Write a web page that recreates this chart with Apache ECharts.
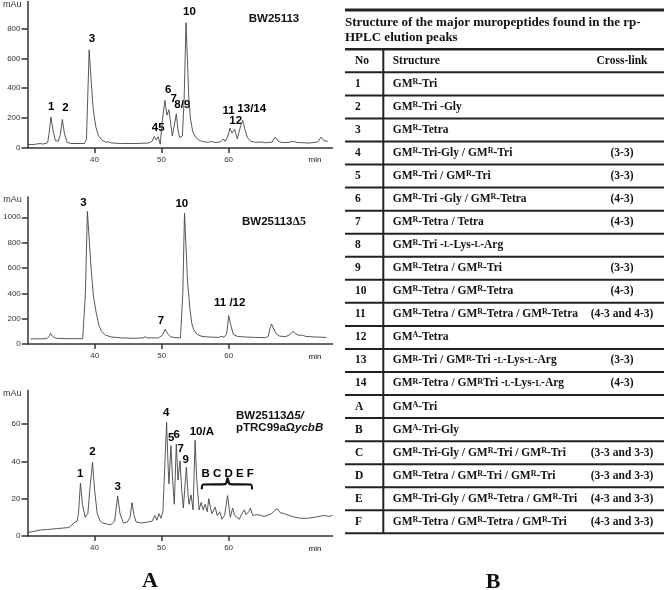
<!DOCTYPE html>
<html>
<head>
<meta charset="utf-8">
<script src="https://cdn.jsdelivr.net/npm/echarts@6/dist/echarts.min.js"></script>
<style>
    html, body { margin: 0; padding: 0; background: #fff; }
    #chart { width: 664px; height: 590px; }
</style>
</head>
<body>
<div id="chart"></div>
<script>
    // chromatogram traces [min, mAu]
    var trace1 = [[30,23],[31.0,24],[31.9,30],[32.3,26],[33.0,35],[33.2,90],[33.5,207],[33.8,120],[34.15,50],[34.6,45],[34.9,90],[35.2,191],[35.5,100],[35.9,38],[36.5,30],[38.5,30],[38.8,60],[39.2,656],[39.5,450],[39.8,260],[40.2,140],[40.6,80],[41.1,52],[41.7,38],[42.1,42],[42.5,34],[44,30],[46,30],[48.0,33],[48.6,45],[48.9,78],[49.2,55],[49.5,75],[49.8,25],[50.1,180],[50.5,318],[50.8,220],[51.1,256],[51.4,150],[51.6,80],[51.9,150],[52.2,229],[52.45,120],[52.7,70],[53.1,80],[53.35,300],[53.65,838],[53.85,600],[54.05,350],[54.3,200],[54.65,110],[55.1,70],[55.6,52],[56.2,42],[57.0,38],[57.4,44],[58.0,37],[58.8,40],[59.2,60],[59.5,45],[59.9,80],[60.2,133],[60.5,100],[60.9,125],[61.3,60],[61.5,55],[61.8,150],[62.1,185],[62.4,130],[62.8,70],[63.3,45],[64.0,38],[64.9,40],[65.5,35],[66.5,40],[66.95,73],[67.4,45],[68.0,36],[69.0,38],[69.6,45],[70.2,37],[72.0,33],[73.3,40],[73.8,73],[74.2,50],[74.8,45]]
    var trace2 = [[30.4,40],[32.8,42],[33.2,60],[33.4,85],[33.7,60],[34.2,45],[36,42],[38.2,42],[38.45,45],[38.6,400],[38.9,1046],[39.2,800],[39.5,560],[39.8,380],[40.2,250],[40.6,150],[41.0,100],[41.6,70],[42.5,55],[44,48],[46,45],[47.2,48],[47.5,58],[47.8,48],[49.5,48],[50.1,70],[50.5,116],[50.9,80],[51.3,58],[52,50],[52.8,48],[53.05,55],[53.15,400],[53.4,1033],[53.6,800],[53.85,500],[54.2,280],[54.5,160],[54.8,110],[55.3,75],[56,60],[57,55],[58.5,52],[59.0,62],[59.3,52],[59.7,80],[60.0,224],[60.3,150],[60.7,75],[61.3,60],[62.5,55],[64,52],[65.5,50],[65.9,60],[66.2,130],[66.4,158],[66.7,120],[67.1,80],[67.6,62],[68.5,58],[69.2,75],[69.6,100],[70.0,80],[70.5,68],[71.0,70],[71.5,60],[73,55],[74.6,52]]
    var trace3 = [[29.9,1.8],[31.0,2.5],[31.9,3.2],[33.0,3.5],[34.5,4],[36.0,4.5],[36.4,5],[36.9,7],[37.4,8],[37.6,12],[37.9,28.3],[38.2,17],[38.6,10],[39.0,12],[39.3,25],[39.7,39.4],[40.0,25],[40.4,12],[40.85,8],[41.2,7],[41.4,8],[41.8,6.5],[42.3,6],[42.6,6.5],[43.0,8],[43.45,21.5],[43.8,12],[44.3,7],[44.9,7.5],[45.3,10],[45.6,17.9],[45.9,11],[46.2,7.5],[47,7],[48.0,7.5],[48.6,8],[49.0,11],[49.3,8.5],[49.6,12],[49.9,9.5],[50.2,13],[50.45,12],[50.75,61],[51.0,35],[51.1,28],[51.4,48.4],[51.65,30],[51.9,17],[52.2,49.3],[52.45,30],[52.75,40.3],[53.0,25],[53.25,15],[53.7,36.9],[53.95,22],[54.1,17],[54.4,22],[54.7,14],[54.85,13],[55.0,51.3],[55.25,30],[55.6,14],[55.9,18],[56.2,14],[56.5,17],[56.8,13],[57.05,20],[57.3,15],[57.5,12],[57.8,14],[58.0,15.5],[58.3,11],[58.7,13],[59.0,9],[59.4,11],[59.85,21.7],[60.25,10],[60.6,15],[60.9,11],[61.1,10],[61.6,9],[62.0,12],[62.35,14],[62.6,11.5],[62.75,12],[63.0,13],[63.25,15],[63.6,11],[63.85,10],[64.3,11.5],[64.85,11],[65.3,10.5],[65.8,11],[66.4,12],[67.0,14],[67.3,14.5],[67.7,12.5],[68.3,12],[69.0,11],[70.0,10],[70.8,9.5],[71.8,9.5],[72.8,10],[73.5,10.5],[74.3,11],[74.9,10.5],[75.5,11]]

    // bracket over B..F
    var brace3 = [[56.0,25],[56.2,27.6],[59.5,27.8],[59.85,31],[60.2,27.8],[63.3,27.6],[63.5,25]]

    // peak labels [text, min, mAu]
    var labels1 = [['1',33.55,273],['2',35.65,267],['3',39.6,729],['45',49.5,133],['6',51.0,389],['7',51.8,329],['8/9',53.1,291],['10',54.15,911],['11',60.0,251],['12',61.05,185],['13/14',63.45,260]]
    var labels2 = [['3',38.3,1112],['10',53.0,1107],['7',49.9,182],['11 /12',60.15,322]]
    var labels3 = [['1',37.85,33.3],['2',39.7,45.3],['3',43.45,26.5],['4',50.7,66],['5',51.45,52.5],['6',52.25,54.1],['7',52.85,46.6],['9',53.6,40.9],['10/A',56.0,56.1],['B C D E F',59.85,33.3]]

    var xTicks = [40, 50, 60]
    var yTicks1 = [0, 200, 400, 600, 800]
    var yTicks2 = [0, 200, 400, 600, 800, 1000]
    var yTicks3 = [0, 20, 40, 60]
    var yMax = [980, 1160, 78]

    // table B
    var tableTitle = ['Structure of the major muropeptides found in the rp-', 'HPLC elution peaks']
    var tableHead = ['No', 'Structure', 'Cross-link']
    var tableNo = ['1','2','3','4','5','6','7','8','9','10','11','12','13','14','A','B','C','D','E','F']
    var tableStructure = [
        'GM^R-Tri',
        'GM^R-Tri -Gly',
        'GM^R-Tetra',
        'GM^R-Tri-Gly / GM^R-Tri',
        'GM^R-Tri / GM^R-Tri',
        'GM^R-Tri -Gly / GM^R-Tetra',
        'GM^R-Tetra / Tetra',
        'GM^R-Tri -L-Lys-L-Arg',
        'GM^R-Tetra / GM^R-Tri',
        'GM^R-Tetra / GM^R-Tetra',
        'GM^R-Tetra / GM^R-Tetra / GM^R-Tetra',
        'GM^A-Tetra',
        'GM^R-Tri / GM^R-Tri -L-Lys-L-Arg',
        'GM^R-Tetra / GM^RTri -L-Lys-L-Arg',
        'GM^A-Tri',
        'GM^A-Tri-Gly',
        'GM^R-Tri-Gly / GM^R-Tri / GM^R-Tri',
        'GM^R-Tetra / GM^R-Tri / GM^R-Tri',
        'GM^R-Tri-Gly / GM^R-Tetra / GM^R-Tri',
        'GM^R-Tetra / GM^R-Tetra / GM^R-Tri'
    ]
    var tableCross = ['','','','(3-3)','(3-3)','(4-3)','(4-3)','','(3-3)','(4-3)','(4-3 and 4-3)','','(3-3)','(4-3)','','','(3-3 and 3-3)','(3-3 and 3-3)','(4-3 and 3-3)','(4-3 and 3-3)']

    var serif = '"Liberation Serif", "Times New Roman", serif'
    var sans = '"Liberation Sans", Arial, sans-serif'
    var ink = '#111'
    var traceColor = '#444'

    var grids = [
        {left: 27.5, width: 305, top: 1, height: 147},
        {left: 27.5, width: 305, top: 197, height: 147},
        {left: 27.5, width: 305, top: 390.5, height: 145.5}
    ]
    var yTickSets = [yTicks1, yTicks2, yTicks3]

    var chart = echarts.init(document.getElementById('chart'), null, {renderer: 'canvas'})

    var xAxes = grids.map(function (g, i) {
        return {
            type: 'value', gridIndex: i, min: 30, max: 75.5,
            axisLine: {lineStyle: {color: '#333', width: 1.5}},
            axisTick: {customValues: xTicks, length: 5, lineStyle: {color: '#333', width: 1.5}},
            axisLabel: {customValues: xTicks, fontSize: 8, color: '#333', margin: 8, fontFamily: sans},
            splitLine: {show: false}
        }
    })
    var yAxes = grids.map(function (g, i) {
        return {
            type: 'value', gridIndex: i, min: 0, max: yMax[i],
            name: 'mAu', nameLocation: 'end', nameGap: -3,
            nameTextStyle: {align: 'right', verticalAlign: 'middle', padding: [0, 6, 0, 0], fontSize: 9, color: '#333', fontFamily: sans},
            axisLine: {show: true, lineStyle: {color: '#333', width: 1.5}},
            axisTick: {show: true, customValues: yTickSets[i], length: 6, lineStyle: {color: '#333', width: 1.5}},
            axisLabel: {
                customValues: yTickSets[i], fontSize: 8, color: '#333', margin: 7, fontFamily: sans,
                formatter: function (v) { return String(v) }
            },
            splitLine: {show: false}
        }
    })

    function labelSeries(list, i) {
        return {
            type: 'scatter', xAxisIndex: i, yAxisIndex: i, silent: true,
            symbolSize: 0,
            itemStyle: {opacity: 1},
            data: list.map(function (l) { return {name: l[0], value: [l[1], l[2]]} }),
            label: {
                show: true, position: 'inside', formatter: '{b}', opacity: 1,
                fontSize: 11.5, fontWeight: 'bold', color: '#000', fontFamily: sans,
                textBorderWidth: 0
            }
        }
    }
    function traceSeries(data, i) {
        return {
            type: 'line', xAxisIndex: i, yAxisIndex: i, data: data, showSymbol: false, silent: true,
            lineStyle: {color: traceColor, width: 0.9}
        }
    }

    // table graphics
    var rowTop = 49.3, rowH = 23.05
    var rich = {
        s: {fontSize: 8, fontWeight: 'bold', fontFamily: serif, fill: ink, color: ink, verticalAlign: 'top'},
        c: {fontSize: 8.5, fontWeight: 'bold', fontFamily: serif, fill: ink, color: ink}
    }
    function txt(x, y, text, opt) {
        opt = opt || {}
        return {
            type: 'text', silent: true,
            style: {
                x: x, y: y, text: text,
                fontSize: opt.size || 11.5, fontWeight: opt.weight || 'bold', fontStyle: opt.style || 'normal',
                fontFamily: opt.family || serif,
                fill: ink,
                align: opt.align || 'left', textAlign: opt.align || 'left',
                verticalAlign: opt.valign || 'middle', textVerticalAlign: opt.valign || 'middle',
                rich: opt.rich
            }
        }
    }
    function hline(y, w) {
        return {type: 'line', silent: true, shape: {x1: 345, y1: y, x2: 664, y2: y}, style: {stroke: '#222', lineWidth: w}}
    }
    var table = []
    table.push(hline(10, 3))
    table.push(txt(345, 22.7, tableTitle[0], {size: 13}))
    table.push(txt(345, 37.7, tableTitle[1], {size: 13}))
    for (var k = 0; k <= 21; k++) {
        table.push(hline(rowTop + k * rowH, k === 0 ? 2.5 : 2))
    }
    table.push({type: 'line', silent: true, shape: {x1: 383.3, y1: rowTop, x2: 383.3, y2: rowTop + 21 * rowH}, style: {stroke: '#222', lineWidth: 2}})
    table.push(txt(355, rowTop + rowH / 2, tableHead[0]))
    table.push(txt(392.7, rowTop + rowH / 2, tableHead[1]))
    table.push(txt(622, rowTop + rowH / 2, tableHead[2], {align: 'center'}))
    tableNo.forEach(function (no, r) {
        var cy = rowTop + (r + 1.5) * rowH
        var s = tableStructure[r].replace(/\^([RA])/g, '{s|$1}').replace(/-L-/g, '-{c|L}-')
        table.push(txt(355, cy, no))
        table.push(txt(392.7, cy, s, {rich: rich}))
        if (tableCross[r]) table.push(txt(622, cy, tableCross[r], {align: 'center'}))
    })

    var notes = [
        txt(274, 19, 'BW25113', {family: sans, size: 11.5, align: 'center'}),
        txt(274, 222, 'BW25113{d|Δ5}', {family: sans, size: 11.5, align: 'center', rich: {d: {fontFamily: serif, fontWeight: 'bold', fontSize: 12, fill: ink}}}),
        txt(236, 416, 'BW25113{i|Δ5/}', {family: sans, size: 11.5, rich: {i: {fontFamily: sans, fontWeight: 'bold', fontStyle: 'italic', fontSize: 11.5, fill: ink}}}),
        txt(236, 428.3, 'pTRC99aΩ{i|ycbB}', {family: sans, size: 11.5, rich: {i: {fontFamily: sans, fontWeight: 'bold', fontStyle: 'italic', fontSize: 11.5, fill: ink}}}),
        txt(315, 160, 'min', {family: sans, size: 8, weight: 'normal', align: 'center'}),
        txt(315, 356.7, 'min', {family: sans, size: 8, weight: 'normal', align: 'center'}),
        txt(315, 549, 'min', {family: sans, size: 8, weight: 'normal', align: 'center'}),
        txt(150, 581, 'A', {size: 22, align: 'center'}),
        txt(493, 582, 'B', {size: 22, align: 'center'})
    ]

    chart.setOption({
        animation: false,
        grid: grids,
        xAxis: xAxes,
        yAxis: yAxes,
        series: [
            traceSeries(trace1, 0),
            traceSeries(trace2, 1),
            traceSeries(trace3, 2),
            {
                type: 'line', xAxisIndex: 2, yAxisIndex: 2, data: brace3, showSymbol: false, silent: true, smooth: 0.3,
                lineStyle: {color: ink, width: 2.2}
            },
            labelSeries(labels1, 0),
            labelSeries(labels2, 1),
            labelSeries(labels3, 2)
        ],
        graphic: {elements: table.concat(notes)}
    })
</script>
</body>
</html>
